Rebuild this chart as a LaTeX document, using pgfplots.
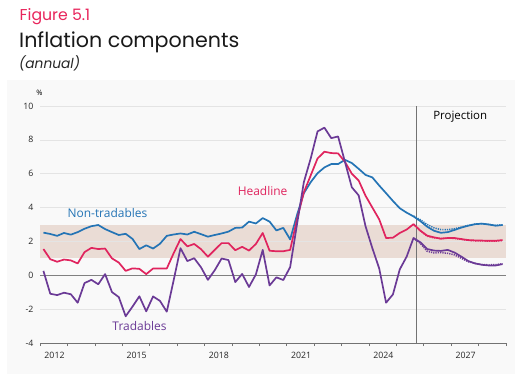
\documentclass[border=0pt]{standalone}
\usepackage{pgfplots}
\pgfplotsset{compat=1.18}
\usepackage{pgfplotstable}
\usepackage{fontspec}
\setmainfont{Open Sans}
\newfontfamily\titlefont{Poppins}
\definecolor{nt}{HTML}{2474B5}
\definecolor{hl}{HTML}{E0245E}
\definecolor{tr}{HTML}{6B3A96}
\definecolor{figred}{HTML}{E8245B}
\definecolor{band}{HTML}{EADCD5}
\definecolor{gridc}{HTML}{E4E4E4}

\pgfplotstableread{
x h n t
2012.125 1.55 2.52 0.26
2012.375 0.95 2.44 -1.09
2012.625 0.80 2.33 -1.17
2012.875 0.93 2.50 -1.03
2013.125 0.88 2.40 -1.12
2013.375 0.70 2.55 -1.62
2013.625 1.37 2.75 -0.46
2013.875 1.62 2.90 -0.27
2014.125 1.55 2.97 -0.53
2014.375 1.58 2.73 0.07
2014.625 1.00 2.55 -0.99
2014.875 0.75 2.38 -1.29
2015.125 0.26 2.45 -2.42
2015.375 0.41 2.15 -1.85
2015.625 0.38 1.55 -1.24
2015.875 0.07 1.77 -2.13
2016.125 0.40 1.58 -1.25
2016.375 0.40 1.86 -1.51
2016.625 0.40 2.33 -2.15
2016.875 1.30 2.41 -0.30
2017.125 2.14 2.47 1.60
2017.375 1.71 2.41 0.84
2017.625 1.85 2.57 1.01
2017.875 1.54 2.43 0.47
2018.125 1.10 2.28 -0.27
2018.375 1.50 2.38 0.30
2018.625 1.90 2.47 0.99
2018.875 1.90 2.58 0.90
2019.125 1.48 2.80 -0.40
2019.375 1.68 2.82 0.08
2019.625 1.46 3.17 -0.69
2019.875 1.85 3.06 0.05
2020.125 2.50 3.38 1.50
2020.375 1.45 3.17 -0.60
2020.625 1.42 2.65 -0.12
2020.875 1.42 2.80 -0.28
2021.125 1.50 2.12 0.48
2021.375 3.30 3.56 3.00
2021.625 4.90 4.85 5.50
2021.875 5.90 5.50 6.90
2022.125 6.90 6.03 8.50
2022.375 7.30 6.37 8.72
2022.625 7.22 6.57 8.10
2022.875 7.20 6.57 8.20
2023.125 6.70 6.82 6.70
2023.375 6.00 6.63 5.20
2023.625 5.60 6.29 4.72
2023.875 4.70 5.93 2.90
2024.125 4.00 5.78 1.60
2024.375 3.30 5.30 0.40
2024.625 2.20 4.85 -1.62
2024.875 2.22 4.39 -1.13
2025.125 2.50 3.96 0.35
2025.375 2.70 3.70 1.10
2025.625 3.02 3.48 2.20
2025.875 2.64 3.20 1.95
2026.125 2.34 2.87 1.55
2026.375 2.24 2.63 1.46
2026.625 2.16 2.51 1.44
2026.875 2.20 2.55 1.50
2027.125 2.20 2.68 1.34
2027.375 2.14 2.82 1.10
2027.625 2.08 2.93 0.84
2027.875 2.06 3.02 0.70
2028.125 2.05 3.05 0.62
2028.375 2.04 3.00 0.58
2028.625 2.04 2.93 0.58
2028.875 2.08 2.97 0.66
}\data

\pgfplotstableread{
x h n t
2025.625 3.02 3.50 2.20
2025.875 2.62 3.28 1.88
2026.125 2.31 3.00 1.42
2026.375 2.21 2.80 1.32
2026.625 2.18 2.70 1.34
2026.875 2.20 2.70 1.30
2027.125 2.18 2.75 1.20
2027.375 2.12 2.85 1.00
2027.625 2.06 2.95 0.80
2027.875 2.04 3.02 0.70
2028.125 2.03 3.05 0.63
2028.375 2.02 3.00 0.62
2028.625 2.02 2.95 0.63
2028.875 2.05 2.97 0.68
}\prev

\begin{document}
\begin{tikzpicture}
\fill[black!2.5] (7bp,-80bp) rectangle (515bp,-374bp);
\node[anchor=base west, inner sep=0, text=figred, font=\titlefont\fontsize{15.8}{16}\selectfont] at (19.5bp,-20.5bp) {Figure 5.1};
\node[anchor=base west, inner sep=0, text=black!90, font=\titlefont\fontsize{20.7}{21}\selectfont] at (19bp,-47bp) {Inflation components};
\node[anchor=base west, inner sep=0, text=black!85, font=\titlefont\itshape\fontsize{13.8}{14}\selectfont] at (19bp,-68bp) {(annual)};
\node[inner sep=0, font=\fontsize{7.5}{8}\selectfont] at (39.5bp,-92.5bp) {\%};
\begin{axis}[
  at={(40bp,-343bp)}, anchor=south west,
  scale only axis, width=466bp, height=237bp,
  xmin=2012, xmax=2029, ymin=-4, ymax=10,
  axis x line*=bottom, axis y line*=left,
  y axis line style={draw=none},
  x axis line style={draw=black!55, line width=0.7bp},
  ytick={-4,-2,...,10},
  major y tick style={draw=none},
  xtick={2012,...,2029},
  xticklabels={2012,,,2015,,,2018,,,2021,,,2024,,,2027,,},
  xticklabel style={xshift=14.5bp, yshift=-2.5bp},
  major x tick style={draw=black!55, line width=0.6bp},
  major tick length=3bp, tick align=outside,
  tick label style={font=\fontsize{8.8}{9}\selectfont, text=black!85},
  /pgf/number format/assume math mode=true,
  clip=false,
]
\fill[band] (axis cs:2012,1) rectangle (axis cs:2029,3);
\draw[gridc, line width=0.7bp] (axis cs:2012,-2) -- (axis cs:2029,-2);
\draw[gridc, line width=0.7bp] (axis cs:2012,2) -- (axis cs:2029,2);
\draw[gridc, line width=0.7bp] (axis cs:2012,4) -- (axis cs:2029,4);
\draw[gridc, line width=0.7bp] (axis cs:2012,6) -- (axis cs:2029,6);
\draw[gridc, line width=0.7bp] (axis cs:2012,8) -- (axis cs:2029,8);
\draw[gridc, line width=0.7bp] (axis cs:2012,10) -- (axis cs:2029,10);
\draw[black!50, line width=0.7bp] (axis cs:2012,0) -- (axis cs:2029,0);
\draw[black!55, line width=0.7bp] (axis cs:2025.72,-4) -- (axis cs:2025.72,10);
\addplot[nt, line width=1.5bp, dash pattern=on 1.2bp off 1.1bp] table[x=x, y=n] {\prev};
\addplot[hl, line width=1.5bp, dash pattern=on 1.2bp off 1.1bp] table[x=x, y=h] {\prev};
\addplot[tr, line width=1.5bp, dash pattern=on 1.2bp off 1.1bp] table[x=x, y=t] {\prev};
\addplot[nt, line width=1.7bp, line join=round] table[x=x, y=n] {\data};
\addplot[hl, line width=1.7bp, line join=round] table[x=x, y=h] {\data};
\addplot[tr, line width=1.7bp, line join=round] table[x=x, y=t] {\data};
\node[text=nt, font=\fontsize{12}{13}\selectfont] at (axis cs:2014.46,3.68) {Non-tradables};
\node[text=hl, font=\fontsize{12}{13}\selectfont] at (axis cs:2020.12,4.98) {Headline};
\node[text=tr, font=\fontsize{12}{13}\selectfont] at (axis cs:2015.63,-2.97) {Tradables};
\node[text=black, font=\fontsize{11.5}{12}\selectfont] at (axis cs:2027.33,9.38) {Projection};
\end{axis}
\pgfresetboundingbox
\path[use as bounding box] (0,0) rectangle (515bp,-380bp);
\end{tikzpicture}
\end{document}
